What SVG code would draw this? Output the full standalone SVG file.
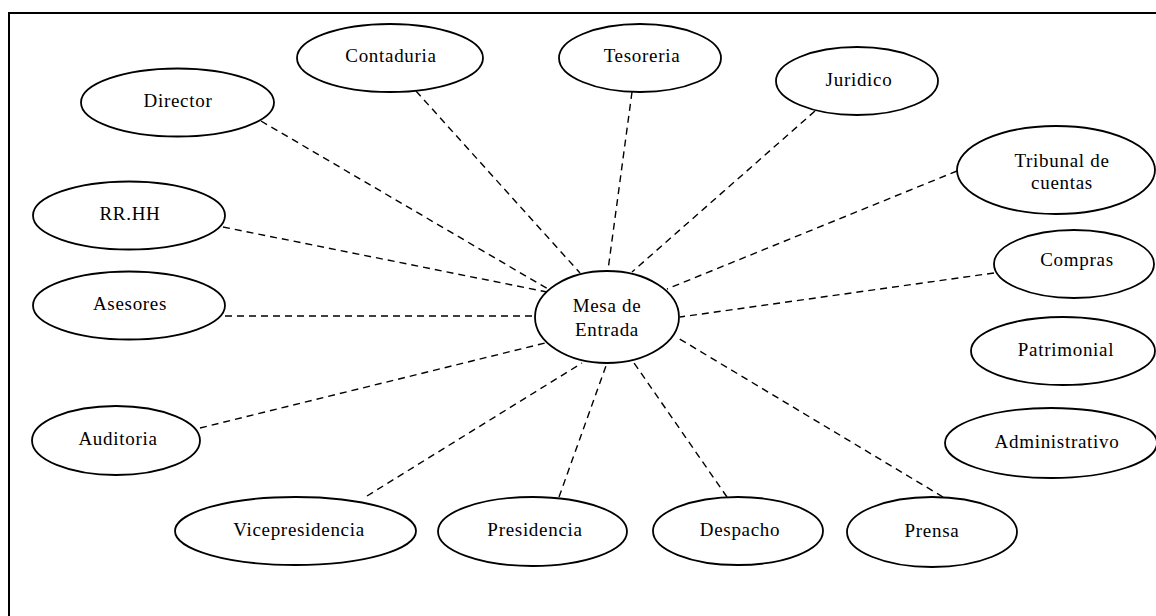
<svg xmlns="http://www.w3.org/2000/svg" width="1156" height="616" viewBox="0 0 1156 616">
<style>
.n ellipse{fill:#fff;stroke:#000;stroke-width:1.8}
.n text{font-family:"Liberation Serif","Times New Roman",serif;font-size:19px;letter-spacing:0.7px;text-anchor:middle;fill:#000}
.c line{stroke:#000;stroke-width:1.4;stroke-dasharray:7 5;fill:none}
.frame{stroke:#000;stroke-width:2;fill:none}
</style>
<rect width="1156" height="616" fill="#fff"/>
<path class="frame" d="M9,616 V13 H1156"/>
<g id="connectors" class="c">
<line x1="261" y1="121" x2="548" y2="289"/>
<line x1="416" y1="91" x2="580" y2="273"/>
<line x1="632" y1="92" x2="608" y2="270"/>
<line x1="815" y1="111" x2="632" y2="272"/>
<line x1="957" y1="171" x2="667" y2="289"/>
<line x1="994" y1="273" x2="680" y2="317"/>
<line x1="223" y1="227" x2="547" y2="292"/>
<line x1="225" y1="316" x2="535" y2="316"/>
<line x1="200" y1="428" x2="545" y2="343"/>
<line x1="367" y1="496" x2="582" y2="363"/>
<line x1="559" y1="497" x2="607" y2="363"/>
<line x1="727" y1="497" x2="632" y2="360"/>
<line x1="943" y1="497" x2="678" y2="338"/>
</g>
<g id="mesa" class="n"><ellipse cx="607" cy="317" rx="72" ry="46"/><text x="607" y="312">Mesa de</text><text x="607" y="336">Entrada</text></g>
<g id="director" class="n"><ellipse cx="177.5" cy="102.5" rx="96.5" ry="34"/><text x="178" y="107">Director</text></g>
<g id="contaduria" class="n"><ellipse cx="390" cy="58" rx="93" ry="34"/><text x="391" y="62">Contaduria</text></g>
<g id="tesoreria" class="n"><ellipse cx="640" cy="58" rx="81" ry="34"/><text x="642" y="62">Tesoreria</text></g>
<g id="juridico" class="n"><ellipse cx="857" cy="81" rx="81" ry="34"/><text x="859" y="86">Juridico</text></g>
<g id="tribunal" class="n"><ellipse cx="1056" cy="170" rx="99" ry="44"/><text x="1062" y="167">Tribunal de</text><text x="1062" y="189">cuentas</text></g>
<g id="compras" class="n"><ellipse cx="1074" cy="264" rx="80" ry="34"/><text x="1077" y="266">Compras</text></g>
<g id="patrimonial" class="n"><ellipse cx="1063" cy="351" rx="92" ry="34"/><text x="1066" y="356">Patrimonial</text></g>
<g id="administrativo" class="n"><ellipse cx="1051" cy="443" rx="106" ry="35"/><text x="1057" y="448">Administrativo</text></g>
<g id="rrhh" class="n"><ellipse cx="129" cy="215.5" rx="96" ry="34"/><text x="130" y="220">RR.HH</text></g>
<g id="asesores" class="n"><ellipse cx="129" cy="305.5" rx="96" ry="34"/><text x="130" y="310">Asesores</text></g>
<g id="auditoria" class="n"><ellipse cx="116" cy="440.5" rx="84" ry="34.5"/><text x="118" y="445">Auditoria</text></g>
<g id="vicepresidencia" class="n"><ellipse cx="295.5" cy="531" rx="120.5" ry="34"/><text x="299" y="536">Vicepresidencia</text></g>
<g id="presidencia" class="n"><ellipse cx="532.5" cy="531.5" rx="94.5" ry="34.5"/><text x="535" y="536">Presidencia</text></g>
<g id="despacho" class="n"><ellipse cx="738" cy="531" rx="85" ry="34"/><text x="740" y="536">Despacho</text></g>
<g id="prensa" class="n"><ellipse cx="932" cy="532" rx="85" ry="35"/><text x="932" y="537">Prensa</text></g>
</svg>
